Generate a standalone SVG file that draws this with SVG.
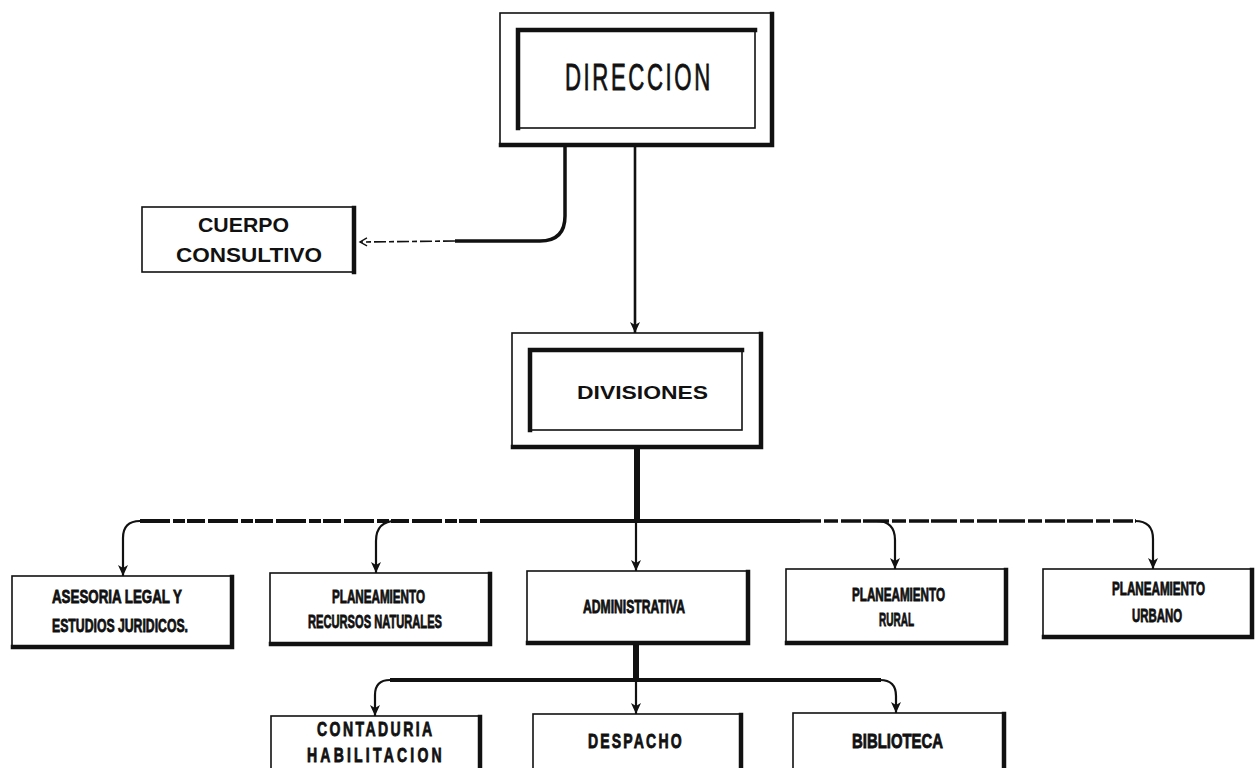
<svg xmlns="http://www.w3.org/2000/svg" width="1257" height="768" viewBox="0 0 1257 768">
<style>
.bg{fill:#fff}
.box{fill:#fff;stroke:#111;stroke-width:1.6}
.heavy{fill:none;stroke:#111;stroke-width:4.5;stroke-linecap:square}
.ln{fill:none;stroke:#111}
.t{fill:#111;stroke:#111;stroke-width:0.8;font-family:"Liberation Sans",Arial,sans-serif;font-weight:bold}
.h{fill:#111;font-family:"Liberation Sans",Arial,sans-serif;font-weight:bold}
.big{fill:#111;stroke:#111;stroke-width:0.8;font-family:"Liberation Sans",Arial,sans-serif;font-weight:normal}
</style>
<defs>
<marker id="arr" markerUnits="userSpaceOnUse" markerWidth="12" markerHeight="12" refX="11" refY="5" orient="auto" overflow="visible">
<path d="M0,0 L11,5 L0,10 L3,5 z" fill="#111"/>
</marker>
<marker id="open" markerUnits="userSpaceOnUse" markerWidth="10" markerHeight="10" refX="8" refY="4" orient="auto" overflow="visible">
<path d="M1,0 L8,4 L1,8" fill="none" stroke="#111" stroke-width="1.4"/>
</marker>
</defs>
<rect class="bg" x="0" y="0" width="1257" height="768"/>

<g id="connectors">
<path class="ln" d="M565,147 L565,216 Q565,241 540,241 L455,241" stroke-width="3.5"/>
<path class="ln" d="M455,241 L360,242" stroke-width="1.6" stroke-dasharray="12 3 5 3" marker-end="url(#open)"/>
<path class="ln" d="M635,147 L635,333" stroke-width="2.6" marker-end="url(#arr)"/>
<path class="ln" d="M637,447 L637,521" stroke-width="6"/>
<path class="ln" d="M140,521 L510,521" stroke-width="4" stroke-dasharray="30 3 12 2 18 3"/>
<path class="ln" d="M505,521 L800,521" stroke-width="4"/>
<path class="ln" d="M795,521 L1136,521" stroke-width="3.5" stroke-dasharray="26 3 14 3 20 2"/>
<path class="ln" d="M140,521 Q123,521 123,538 L123,576" stroke-width="2.2" marker-end="url(#arr)"/>
<path class="ln" d="M396,521 Q376,521 376,541 L376,573" stroke-width="2.2" marker-end="url(#arr)"/>
<path class="ln" d="M636,521 L636,571" stroke-width="2.2" marker-end="url(#arr)"/>
<path class="ln" d="M876,521 Q895,521 895,540 L895,569" stroke-width="2.2" marker-end="url(#arr)"/>
<path class="ln" d="M1135,521 Q1153,521 1153,539 L1153,569" stroke-width="2.2" marker-end="url(#arr)"/>
<path class="ln" d="M636,643 L636,680" stroke-width="6"/>
<path class="ln" d="M390,680 L881,680" stroke-width="4"/>
<path class="ln" d="M390,680 Q375,680 375,695 L375,716" stroke-width="2.2" marker-end="url(#arr)"/>
<path class="ln" d="M636,680 L636,714" stroke-width="2.2" marker-end="url(#arr)"/>
<path class="ln" d="M880,680 Q896,680 896,696 L896,713" stroke-width="2.2" marker-end="url(#arr)"/>
</g>

<g id="direccion">
<rect class="box" x="500" y="13" width="272" height="132" stroke-width="2"/>
<path class="heavy" d="M772,14 L772,145 L501,145" stroke-width="5"/>
<rect class="box" x="517" y="29" width="238" height="99" stroke-width="2.4"/>
<path class="heavy" d="M518,128 L518,30 L755,30" stroke-width="5"/>
<text class="big" transform="translate(565,90) scale(0.6,1)" x="0" y="0" font-size="37" textLength="242">DIRECCION</text>
</g>

<g id="cuerpo-consultivo">
<rect class="box" x="142" y="207" width="212" height="65"/>
<path class="heavy" d="M354,208 L354,272"/>
<text class="h" x="198" y="232" font-size="20" textLength="91" lengthAdjust="spacingAndGlyphs">CUERPO</text>
<text class="h" x="176" y="262" font-size="20" textLength="146" lengthAdjust="spacingAndGlyphs">CONSULTIVO</text>
</g>

<g id="divisiones">
<rect class="box" x="512" y="333" width="249" height="114" stroke-width="2"/>
<path class="heavy" d="M761,334 L761,447 L513,447" stroke-width="4.5"/>
<rect class="box" x="529" y="349" width="213" height="81" stroke-width="2.4"/>
<path class="heavy" d="M530,430 L530,350 L742,350" stroke-width="5"/>
<text class="h" x="577" y="399" font-size="19" textLength="131" lengthAdjust="spacingAndGlyphs">DIVISIONES</text>
</g>

<g id="asesoria">
<rect class="box" x="12" y="576" width="220" height="71"/>
<path class="heavy" d="M232,577 L232,647 L13,647"/>
<text class="t" x="52" y="603" font-size="18" textLength="130" lengthAdjust="spacingAndGlyphs">ASESORIA LEGAL Y</text>
<text class="t" x="52" y="632" font-size="18" textLength="136" lengthAdjust="spacingAndGlyphs">ESTUDIOS JURIDICOS.</text>
</g>

<g id="recursos-naturales">
<rect class="box" x="270" y="573" width="220" height="71"/>
<path class="heavy" d="M490,574 L490,644 L271,644"/>
<text class="t" x="332" y="603" font-size="18" textLength="93" lengthAdjust="spacingAndGlyphs">PLANEAMIENTO</text>
<text class="t" x="308" y="628" font-size="18" textLength="134" lengthAdjust="spacingAndGlyphs">RECURSOS NATURALES</text>
</g>

<g id="administrativa">
<rect class="box" x="527" y="571" width="221" height="72"/>
<path class="heavy" d="M748,572 L748,643 L528,643"/>
<text class="t" x="583" y="613" font-size="18" textLength="102" lengthAdjust="spacingAndGlyphs">ADMINISTRATIVA</text>
</g>

<g id="rural">
<rect class="box" x="786" y="569" width="220" height="74"/>
<path class="heavy" d="M1006,570 L1006,643 L787,643"/>
<text class="t" x="852" y="601" font-size="18" textLength="93" lengthAdjust="spacingAndGlyphs">PLANEAMIENTO</text>
<text class="t" x="879" y="626" font-size="18" textLength="35" lengthAdjust="spacingAndGlyphs">RURAL</text>
</g>

<g id="urbano">
<rect class="box" x="1043" y="569" width="209" height="68"/>
<path class="heavy" d="M1252,570 L1252,637 L1044,637"/>
<text class="t" x="1112" y="595" font-size="18" textLength="93" lengthAdjust="spacingAndGlyphs">PLANEAMIENTO</text>
<text class="t" x="1132" y="622" font-size="18" textLength="50" lengthAdjust="spacingAndGlyphs">URBANO</text>
</g>

<g id="contaduria">
<rect class="box" x="271" y="716" width="209" height="70"/>
<path class="heavy" d="M480,717 L480,786"/>
<text class="t" transform="translate(317,736) scale(0.72,1)" x="0" y="0" font-size="19.5" textLength="160">CONTADURIA</text>
<text class="t" transform="translate(307,762) scale(0.72,1)" x="0" y="0" font-size="19.5" textLength="187">HABILITACION</text>
</g>

<g id="despacho">
<rect class="box" x="533" y="714" width="208" height="72"/>
<path class="heavy" d="M741,715 L741,786"/>
<text class="t" transform="translate(588,748) scale(0.72,1)" x="0" y="0" font-size="19.5" textLength="130">DESPACHO</text>
</g>

<g id="biblioteca">
<rect class="box" x="793" y="713" width="211" height="73"/>
<path class="heavy" d="M1004,714 L1004,786"/>
<text class="t" x="852" y="748" font-size="19.5" textLength="91" lengthAdjust="spacingAndGlyphs">BIBLIOTECA</text>
</g>
</svg>
